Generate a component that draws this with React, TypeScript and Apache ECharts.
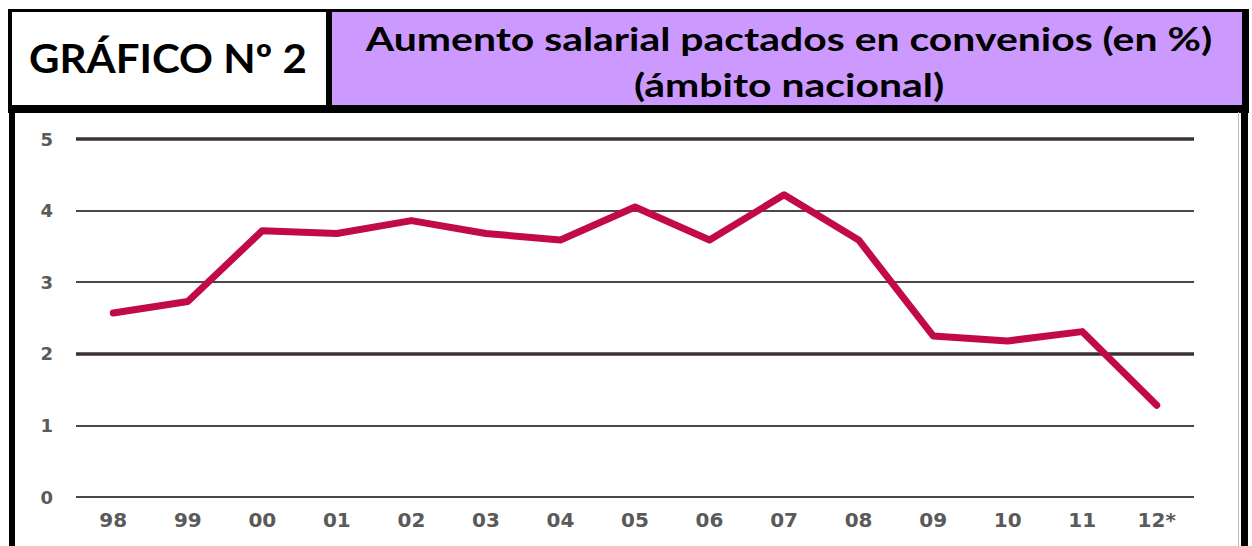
import React, { useEffect, useRef } from "react";
import * as echarts from "echarts";

const categories = ["98", "99", "00", "01", "02", "03", "04", "05", "06", "07", "08", "09", "10", "11", "12*"];
const values = [2.57, 2.73, 3.72, 3.68, 3.86, 3.68, 3.59, 4.05, 3.59, 4.22, 3.59, 2.25, 2.18, 2.31, 1.28];
const yTicks = [0, 1, 2, 3, 4, 5];
const heavyLines = [2, 5];
const headerLeft = "GRÁFICO Nº 2";
const headerTitle1 = "Aumento salarial pactados en convenios (en %)";
const headerTitle2 = "(ámbito nacional)";

export default function App() {
  const ref = useRef<HTMLDivElement>(null);
  useEffect(() => {
    if (!ref.current) return;
    const chart = echarts.init(ref.current, null, { renderer: "svg" });
    chart.setOption({
      animation: false,
      backgroundColor: "#ffffff",
      grid: { left: 76, right: 58, top: 139, bottom: 49, containLabel: false, outerBoundsMode: "none" },
      xAxis: {
        type: "category",
        data: categories,
        boundaryGap: true,
        axisLine: { show: false },
        axisTick: { show: false },
        axisLabel: { color: "#5a5a5a", fontFamily: "DejaVu Sans", fontWeight: "bold", fontSize: 20, margin: 13 },
      },
      yAxis: {
        type: "value",
        min: yTicks[0],
        max: yTicks[yTicks.length - 1],
        interval: 1,
        axisLine: { show: false },
        axisTick: { show: false },
        axisLabel: { color: "#5a5a5a", fontFamily: "DejaVu Sans", fontWeight: "bold", fontSize: 18, margin: 23 },
        splitLine: { show: true, lineStyle: { color: "#4e4646", width: 2.2 } },
      },
      series: [
        {
          type: "line",
          data: values,
          symbol: "none",
          lineStyle: { color: "#C20A48", width: 7, join: "round", cap: "round" },
          z: 5,
          markLine: {
            silent: true,
            symbol: "none",
            label: { show: false },
            lineStyle: { color: "#3a3232", width: 3.6, type: "solid" },
            data: heavyLines.map((v) => ({ yAxis: v })),
            z: 3,
          },
        },
      ],
      graphic: [
        { type: "rect", shape: { x: 8, y: 9, width: 1241, height: 104 }, style: { fill: "#000" }, z: 10 },
        { type: "rect", shape: { x: 12, y: 12, width: 314, height: 93 }, style: { fill: "#fff" }, z: 11 },
        { type: "rect", shape: { x: 332, y: 12, width: 910, height: 93 }, style: { fill: "#CC99FF" }, z: 11 },
        { type: "rect", shape: { x: 9, y: 112, width: 6, height: 434 }, style: { fill: "#000" }, z: 10 },
        { type: "rect", shape: { x: 1241, y: 112, width: 7, height: 434 }, style: { fill: "#000" }, z: 10 },
        { type: "rect", shape: { x: 1238, y: 112, width: 1, height: 434 }, style: { fill: "#bbbbbb" }, z: 10 },
        {
          type: "text",
          x: 168,
          y: 58,
          scaleX: 1.05,
          z: 12,
          style: {
            text: headerLeft,
            fill: "#000",
            font: "bold 40px Lato",
            align: "center",
            verticalAlign: "middle",
          },
        },
        {
          type: "text",
          x: 789,
          y: 38,
          scaleX: 1.24,
          z: 12,
          style: {
            text: headerTitle1,
            fill: "#000",
            font: "bold 33px Lato",
            align: "center",
            verticalAlign: "middle",
          },
        },
        {
          type: "text",
          x: 789,
          y: 84,
          scaleX: 1.24,
          z: 12,
          style: {
            text: headerTitle2,
            fill: "#000",
            font: "bold 33px Lato",
            align: "center",
            verticalAlign: "middle",
          },
        },
      ],
    });
    return () => chart.dispose();
  }, []);
  return <div ref={ref} style={{ position: "absolute", left: 0, top: 0, width: 1252, height: 546 }} />;
}
